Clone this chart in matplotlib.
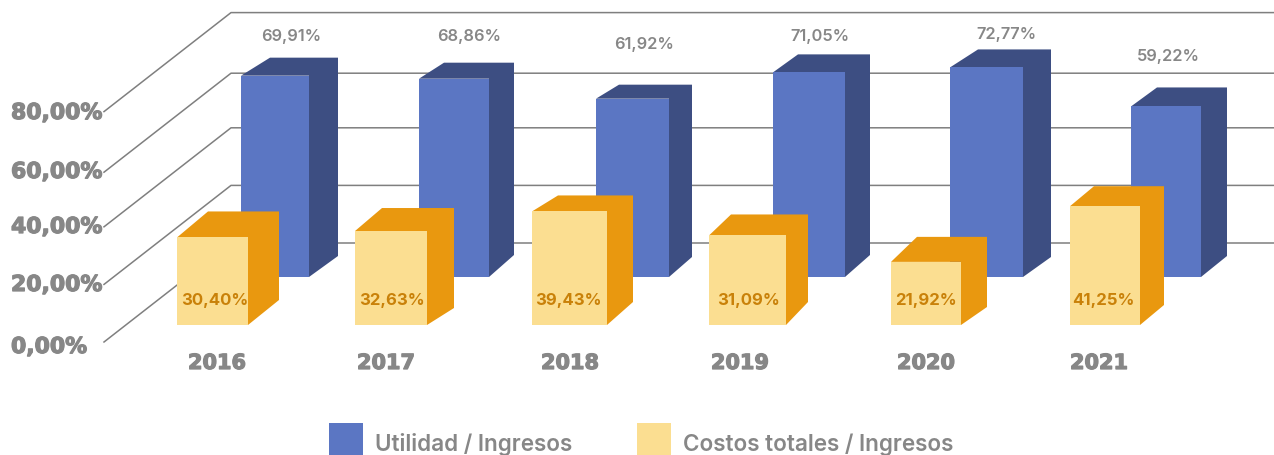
import matplotlib
matplotlib.use('Agg')
import matplotlib.pyplot as plt
from matplotlib.patches import Rectangle
import matplotlib.patheffects as pe

# chart values
years = ['2016', '2017', '2018', '2019', '2020', '2021']
utilidad = [69.91, 68.86, 61.92, 71.05, 72.77, 59.22]
costos = [30.40, 32.63, 39.43, 31.09, 21.92, 41.25]
tick_values = [0, 20, 40, 60, 80]
legend_labels = ['Utilidad / Ingresos', 'Costos totales / Ingresos']

# layout, in reference pixels
W, H = 1274, 455
PX_PER_PCT = 2.88
FLOOR_PX = 342
blue_left = [241, 419, 596, 773, 950, 1131]
blue_w = [68, 70, 73, 72, 73, 70]
blue_dx = [29, 25, 23, 25, 28, 26]
blue_dy = [18, 16, 14, 18, 18, 19]
blue_dy_low = [21, 22, 20, 22, 20, 21]
yellow_left = [177, 355, 532, 709, 891, 1070]
yellow_w = [71, 72, 75, 77, 70, 70]
yellow_dx = [31, 27, 26, 22, 26, 24]
yellow_dy = [26, 23, 16, 21, 25, 20]
yellow_dy_low = [25, 17, 23, 23, 18, 20]
blue_label_xy = [(291, 36), (469, 36), (644, 44), (820, 36), (1006, 35), (1168, 57)]
yellow_label_x = [215, 392, 568, 748, 926, 1103]
year_x = [217, 386, 570, 740, 926, 1099]
tick_label_y = [347, 285, 227, 172, 113]

BLUE, BLUE_DARK = '#5B76C3', '#3D4E82'
YELLOW, ORANGE = '#FBDE91', '#E9980F'
GREY, GRID, INNER = '#878787', '#7F7F7F', '#C98109'
HEAVY = [pe.withStroke(linewidth=0.9, foreground=GREY)]


def py(pixel):
    # reference pixel row to percent on the y axis
    return (FLOOR_PX - pixel) / PX_PER_PCT


def draw_boxes(ax, lefts, widths, values, dxs, dys, lows, base_px, front, dark, z):
    base = py(base_px)
    ax.bar(lefts, values, widths, bottom=base, align='edge', color=front,
           linewidth=0, zorder=z + 1)
    for l, w, v, dx, dy, low in zip(lefts, widths, values, dxs, dys, lows):
        top = base + v
        up = top + dy / PX_PER_PCT
        r = l + w
        # side and top are one flat shape
        ax.fill([r, r + dx, r + dx, l + dx, l, r],
                [base, base + low / PX_PER_PCT, up, up, top, top],
                color=dark, linewidth=0, zorder=z)


fig = plt.figure(figsize=(W / 100, H / 100), dpi=100)
ax = fig.add_axes([0, 0, 1, 1])
ax.set_xlim(0, W)
ax.set_ylim(py(H), py(0))
ax.axis('off')

# back wall and side wall lines
depth = 99 / PX_PER_PCT
nudge = {60: -3 / PX_PER_PCT}
for t in tick_values:
    y = t + nudge.get(t, 0)
    ax.plot([104, 231, W], [y, y + depth, y + depth], color=GRID, lw=1.1, zorder=1)

draw_boxes(ax, blue_left, blue_w, utilidad, blue_dx, blue_dy, blue_dy_low, 277,
           BLUE, BLUE_DARK, 2)
draw_boxes(ax, yellow_left, yellow_w, costos, yellow_dx, yellow_dy, yellow_dy_low, 325,
           YELLOW, ORANGE, 4)

for v, (x, y) in zip(utilidad, blue_label_xy):
    ax.text(x, py(y), f'{v:.2f}%'.replace('.', ','), ha='center', va='center',
            color=GREY, fontsize=11.8, family='Inter', weight='semibold', zorder=8)
for v, x in zip(costos, yellow_label_x):
    ax.text(x, py(300), f'{v:.2f}%'.replace('.', ','), ha='center', va='center',
            color=INNER, fontsize=12, family='Inter', weight='bold', zorder=8)
for t, y in zip(tick_values, tick_label_y):
    ax.text(11, py(y), f'{t},00%', ha='left', va='center', color=GREY,
            fontsize=15.8, family='DejaVu Sans', weight='bold', path_effects=HEAVY)
for yr, x in zip(years, year_x):
    ax.text(x, py(363), yr, ha='center', va='center', color=GREY,
            fontsize=15, family='DejaVu Sans', weight='bold', path_effects=HEAVY)

# legend
for x, c, lab, tx in zip([329, 637], [BLUE, YELLOW], legend_labels, [375, 683]):
    ax.add_patch(Rectangle((x, py(H)), 34, py(423) - py(H), color=c, linewidth=0))
    ax.text(tx, py(451), lab, ha='left', va='baseline', color=GREY,
            fontsize=16.2, family='Inter', weight='semibold')

fig.savefig('out.png', dpi=100)
